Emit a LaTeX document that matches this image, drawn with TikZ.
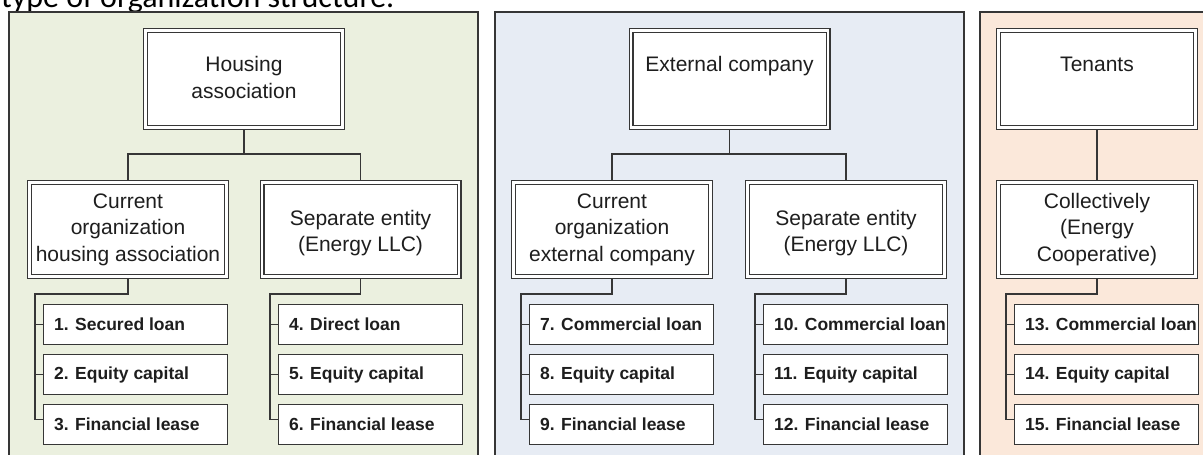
\documentclass[tikz,border=0pt]{standalone}
\usepackage{fontspec}
\setmainfont{Liberation Sans}
\newfontfamily\titlefont{Carlito}
\usetikzlibrary{calc}
\definecolor{linec}{HTML}{363636}
\definecolor{textc}{HTML}{1E1E1E}
\definecolor{greenbg}{HTML}{EBF0DF}
\definecolor{bluebg}{HTML}{E7ECF4}
\definecolor{peachbg}{HTML}{FBE8DA}
\tikzset{
  panel/.style = {draw=linec, line width=1.3pt},
  orgbox/.style = {draw=linec, double=white, double distance=2.4pt, line width=1.3pt, fill=white,
    minimum width=197pt, minimum height=94pt, inner xsep=2pt, outer sep=2.5pt, align=center,
    text=textc, font=\fontsize{21}{26.5}\selectfont},
  headbox/.style = {orgbox, minimum height=97pt, text height=15pt, text depth=30pt},
  leafbox/.style = {draw=linec, fill=white, line width=1.2pt, minimum height=40pt, inner xsep=10.5pt,
    anchor=west, text=textc, font=\fontsize{17.5}{21}\selectfont\bfseries,
    execute at begin node={\hbox to 163pt\bgroup}, execute at end node={\hss\egroup}},
  link/.style = {draw=linec, line width=1.2pt}
}
\begin{document}
\begin{tikzpicture}[x=1pt, y=-1pt]
\useasboundingbox (0,0) rectangle (1203,455);
\clip (0,0) rectangle (1203,455);
\fill[white] (0,0) rectangle (1203,455);
\node[anchor=base west, inner sep=0pt, font=\titlefont\fontsize{32}{38}\selectfont] (title) at (1,7.3) {type of organization structure.};
\draw[panel, fill=greenbg] (9,12) rectangle (478,470);
\draw[panel, fill=bluebg] (495,12) rectangle (964,470);
\draw[panel, fill=peachbg] (980,12) rectangle (1220,470);

\node[headbox, text height=41.5pt, text depth=3.5pt] (ha) at (244,79) {Housing\\association};
\node[orgbox] (hc) at (128,229.5) {Current\\organization\\housing association};
\node[orgbox, text height=46pt, text depth=2pt] (hs) at (360.5,229.5) {Separate entity\\(Energy LLC)};
\node[leafbox] (h1) at (43,324.5) {1. Secured loan};
\node[leafbox] (h2) at (43,374.5) {2. Equity capital};
\node[leafbox] (h3) at (43,424.5) {3. Financial lease};
\node[leafbox] (h4) at (278,324.5) {4. Direct loan};
\node[leafbox] (h5) at (278,374.5) {5. Equity capital};
\node[leafbox] (h6) at (278,424.5) {6. Financial lease};

\node[headbox] (ea) at (729.5,79) {External company};
\node[orgbox] (ec) at (612,229.5) {Current\\organization\\external company};
\node[orgbox, text height=46pt, text depth=2pt] (es) at (846,229.5) {Separate entity\\(Energy LLC)};
\node[leafbox] (e7) at (529,324.5) {7. Commercial loan};
\node[leafbox] (e8) at (529,374.5) {8. Equity capital};
\node[leafbox] (e9) at (529,424.5) {9. Financial lease};
\node[leafbox] (e10) at (763,324.5) {10. Commercial loan};
\node[leafbox] (e11) at (763,374.5) {11. Equity capital};
\node[leafbox] (e12) at (763,424.5) {12. Financial lease};

\node[headbox] (ta) at (1097,79) {Tenants};
\node[orgbox] (tc) at (1097,229.5) {Collectively\\(Energy\\Cooperative)};
\node[leafbox] (t13) at (1014,324.5) {13. Commercial loan};
\node[leafbox] (t14) at (1014,374.5) {14. Equity capital};
\node[leafbox] (t15) at (1014,424.5) {15. Financial lease};

\draw[link] (ha.south) -- ++(0,24) -| (hc.north);
\draw[link] (ha.south) -- ++(0,24) -| (hs.north);
\draw[link] (hc.south) -- ++(0,15) -| ([xshift=-8pt,yshift=5pt]h3.west) -- ([yshift=5pt]h3.west);
\draw[link] (h1.west) -- ++(-8,0);
\draw[link] (h2.west) -- ++(-8,0);
\draw[link] (hs.south) -- ++(0,15) -| ([xshift=-8pt,yshift=5pt]h6.west) -- ([yshift=5pt]h6.west);
\draw[link] (h4.west) -- ++(-8,0);
\draw[link] (h5.west) -- ++(-8,0);

\draw[link] (ea.south) -- ++(0,24) -| (ec.north);
\draw[link] (ea.south) -- ++(0,24) -| (es.north);
\draw[link] (ec.south) -- ++(0,15) -| ([xshift=-8pt,yshift=5pt]e9.west) -- ([yshift=5pt]e9.west);
\draw[link] (e7.west) -- ++(-8,0);
\draw[link] (e8.west) -- ++(-8,0);
\draw[link] (es.south) -- ++(0,15) -| ([xshift=-8pt,yshift=5pt]e12.west) -- ([yshift=5pt]e12.west);
\draw[link] (e10.west) -- ++(-8,0);
\draw[link] (e11.west) -- ++(-8,0);

\draw[link] (ta) -- (tc);
\draw[link] (tc.south) -- ++(0,15) -| ([xshift=-8pt,yshift=5pt]t15.west) -- ([yshift=5pt]t15.west);
\draw[link] (t13.west) -- ++(-8,0);
\draw[link] (t14.west) -- ++(-8,0);
\end{tikzpicture}
\end{document}
